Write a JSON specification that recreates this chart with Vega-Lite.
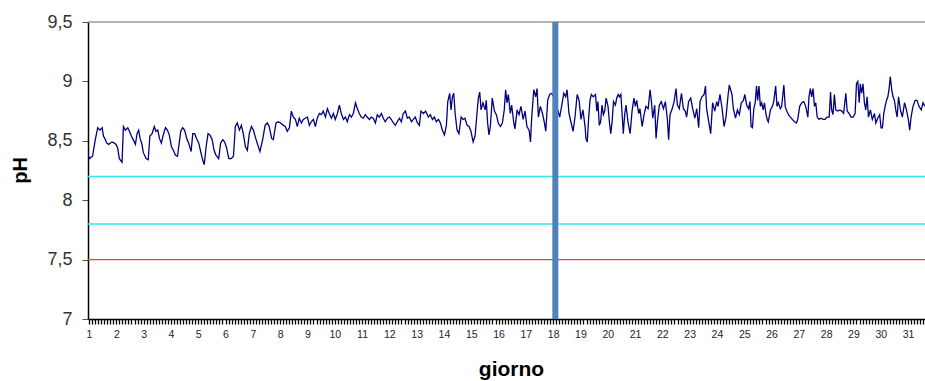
{
  "$schema": "https://vega.github.io/schema/vega-lite/v6.json",
  "width": 837,
  "height": 297,
  "autosize": {"type": "none"},
  "padding": {"left": 88, "top": 22, "right": 0, "bottom": 62},
  "background": "white",
  "config": {"view": {"stroke": null}},
  "datasets": {
    "refs": [
      {"valore": 9.5, "tipo": "bordo"},
      {"valore": 8.2, "tipo": "limite"},
      {"valore": 7.8, "tipo": "limite"},
      {"valore": 7.5, "tipo": "soglia"}
    ],
    "evento": [{"giorno": 18.08}],
    "ph": [
      {"giorno":0.97,"pH":8.38},{"giorno":1.01,"pH":8.35},{"giorno":1.13,"pH":8.37},{"giorno":1.23,"pH":8.51},{"giorno":1.32,"pH":8.61},{"giorno":1.40,"pH":8.59},{"giorno":1.48,"pH":8.61},{"giorno":1.53,"pH":8.54},{"giorno":1.60,"pH":8.51},{"giorno":1.65,"pH":8.48},{"giorno":1.72,"pH":8.47},{"giorno":1.77,"pH":8.48},{"giorno":1.84,"pH":8.49},{"giorno":1.93,"pH":8.48},{"giorno":1.99,"pH":8.47},{"giorno":2.05,"pH":8.44},{"giorno":2.11,"pH":8.35},{"giorno":2.21,"pH":8.32},{"giorno":2.26,"pH":8.62},{"giorno":2.33,"pH":8.59},{"giorno":2.42,"pH":8.61},{"giorno":2.48,"pH":8.58},{"giorno":2.55,"pH":8.54},{"giorno":2.62,"pH":8.51},{"giorno":2.70,"pH":8.47},{"giorno":2.76,"pH":8.56},{"giorno":2.82,"pH":8.59},{"giorno":2.87,"pH":8.52},{"giorno":2.94,"pH":8.47},{"giorno":2.99,"pH":8.40},{"giorno":3.09,"pH":8.35},{"giorno":3.17,"pH":8.34},{"giorno":3.23,"pH":8.54},{"giorno":3.31,"pH":8.56},{"giorno":3.39,"pH":8.62},{"giorno":3.45,"pH":8.58},{"giorno":3.52,"pH":8.59},{"giorno":3.58,"pH":8.52},{"giorno":3.65,"pH":8.48},{"giorno":3.72,"pH":8.55},{"giorno":3.80,"pH":8.61},{"giorno":3.87,"pH":8.59},{"giorno":3.94,"pH":8.55},{"giorno":4.02,"pH":8.45},{"giorno":4.09,"pH":8.42},{"giorno":4.16,"pH":8.38},{"giorno":4.24,"pH":8.37},{"giorno":4.28,"pH":8.44},{"giorno":4.36,"pH":8.58},{"giorno":4.43,"pH":8.61},{"giorno":4.50,"pH":8.59},{"giorno":4.58,"pH":8.52},{"giorno":4.65,"pH":8.48},{"giorno":4.74,"pH":8.41},{"giorno":4.80,"pH":8.56},{"giorno":4.87,"pH":8.56},{"giorno":4.94,"pH":8.52},{"giorno":5.02,"pH":8.48},{"giorno":5.09,"pH":8.41},{"giorno":5.16,"pH":8.34},{"giorno":5.22,"pH":8.30},{"giorno":5.29,"pH":8.45},{"giorno":5.36,"pH":8.56},{"giorno":5.43,"pH":8.55},{"giorno":5.51,"pH":8.51},{"giorno":5.58,"pH":8.42},{"giorno":5.65,"pH":8.38},{"giorno":5.75,"pH":8.35},{"giorno":5.82,"pH":8.48},{"giorno":5.90,"pH":8.51},{"giorno":5.97,"pH":8.49},{"giorno":6.04,"pH":8.44},{"giorno":6.12,"pH":8.35},{"giorno":6.21,"pH":8.35},{"giorno":6.29,"pH":8.37},{"giorno":6.36,"pH":8.62},{"giorno":6.43,"pH":8.65},{"giorno":6.51,"pH":8.59},{"giorno":6.58,"pH":8.63},{"giorno":6.65,"pH":8.56},{"giorno":6.73,"pH":8.45},{"giorno":6.80,"pH":8.42},{"giorno":6.87,"pH":8.56},{"giorno":6.95,"pH":8.62},{"giorno":7.02,"pH":8.59},{"giorno":7.12,"pH":8.51},
      {"giorno":7.26,"pH":8.41},{"giorno":7.36,"pH":8.51},{"giorno":7.45,"pH":8.63},{"giorno":7.53,"pH":8.65},{"giorno":7.60,"pH":8.62},{"giorno":7.69,"pH":8.52},{"giorno":7.75,"pH":8.51},{"giorno":7.85,"pH":8.65},{"giorno":7.93,"pH":8.66},{"giorno":8.02,"pH":8.65},{"giorno":8.12,"pH":8.63},{"giorno":8.19,"pH":8.62},{"giorno":8.26,"pH":8.58},{"giorno":8.34,"pH":8.61},{"giorno":8.41,"pH":8.75},{"giorno":8.48,"pH":8.70},{"giorno":8.56,"pH":8.68},{"giorno":8.63,"pH":8.62},{"giorno":8.70,"pH":8.69},{"giorno":8.78,"pH":8.65},{"giorno":8.85,"pH":8.68},{"giorno":8.92,"pH":8.69},{"giorno":9.00,"pH":8.70},{"giorno":9.07,"pH":8.63},{"giorno":9.14,"pH":8.66},{"giorno":9.22,"pH":8.68},{"giorno":9.29,"pH":8.62},{"giorno":9.36,"pH":8.69},{"giorno":9.44,"pH":8.73},{"giorno":9.51,"pH":8.72},{"giorno":9.58,"pH":8.75},{"giorno":9.66,"pH":8.70},{"giorno":9.73,"pH":8.77},{"giorno":9.80,"pH":8.73},{"giorno":9.88,"pH":8.69},{"giorno":9.95,"pH":8.73},{"giorno":10.02,"pH":8.68},{"giorno":10.10,"pH":8.73},{"giorno":10.17,"pH":8.80},{"giorno":10.24,"pH":8.73},{"giorno":10.32,"pH":8.68},{"giorno":10.39,"pH":8.70},{"giorno":10.46,"pH":8.66},{"giorno":10.54,"pH":8.72},{"giorno":10.61,"pH":8.70},{"giorno":10.68,"pH":8.73},{"giorno":10.76,"pH":8.82},{"giorno":10.83,"pH":8.77},{"giorno":10.90,"pH":8.73},{"giorno":10.97,"pH":8.70},{"giorno":11.05,"pH":8.69},{"giorno":11.12,"pH":8.72},{"giorno":11.19,"pH":8.70},{"giorno":11.27,"pH":8.68},{"giorno":11.34,"pH":8.70},{"giorno":11.41,"pH":8.69},{"giorno":11.49,"pH":8.65},{"giorno":11.56,"pH":8.72},{"giorno":11.63,"pH":8.70},{"giorno":11.71,"pH":8.73},{"giorno":11.78,"pH":8.69},{"giorno":11.85,"pH":8.66},{"giorno":11.93,"pH":8.69},{"giorno":12.00,"pH":8.70},{"giorno":12.07,"pH":8.68},{"giorno":12.15,"pH":8.65},{"giorno":12.22,"pH":8.63},{"giorno":12.29,"pH":8.66},{"giorno":12.37,"pH":8.69},{"giorno":12.44,"pH":8.66},{"giorno":12.51,"pH":8.73},{"giorno":12.59,"pH":8.75},{"giorno":12.66,"pH":8.69},{"giorno":12.73,"pH":8.70},{"giorno":12.81,"pH":8.66},{"giorno":12.88,"pH":8.68},{"giorno":12.95,"pH":8.70},{"giorno":13.03,"pH":8.65},{"giorno":13.10,"pH":8.63},
      {"giorno":13.16,"pH":8.75},{"giorno":13.25,"pH":8.73},{"giorno":13.33,"pH":8.75},{"giorno":13.43,"pH":8.70},{"giorno":13.50,"pH":8.72},{"giorno":13.58,"pH":8.68},{"giorno":13.65,"pH":8.70},{"giorno":13.72,"pH":8.66},{"giorno":13.80,"pH":8.68},{"giorno":13.87,"pH":8.65},{"giorno":13.94,"pH":8.59},{"giorno":14.02,"pH":8.55},{"giorno":14.09,"pH":8.63},{"giorno":14.14,"pH":8.83},{"giorno":14.21,"pH":8.90},{"giorno":14.26,"pH":8.76},{"giorno":14.31,"pH":8.87},{"giorno":14.36,"pH":8.90},{"giorno":14.41,"pH":8.73},{"giorno":14.48,"pH":8.59},{"giorno":14.55,"pH":8.56},{"giorno":14.63,"pH":8.70},{"giorno":14.70,"pH":8.68},{"giorno":14.77,"pH":8.69},{"giorno":14.85,"pH":8.63},{"giorno":14.92,"pH":8.62},{"giorno":14.99,"pH":8.58},{"giorno":15.07,"pH":8.49},{"giorno":15.14,"pH":8.54},{"giorno":15.21,"pH":8.73},{"giorno":15.26,"pH":8.86},{"giorno":15.31,"pH":8.91},{"giorno":15.36,"pH":8.76},{"giorno":15.43,"pH":8.82},{"giorno":15.51,"pH":8.76},{"giorno":15.55,"pH":8.84},{"giorno":15.60,"pH":8.65},{"giorno":15.65,"pH":8.55},{"giorno":15.70,"pH":8.62},{"giorno":15.77,"pH":8.86},{"giorno":15.85,"pH":8.75},{"giorno":15.92,"pH":8.72},{"giorno":15.99,"pH":8.65},{"giorno":16.07,"pH":8.62},{"giorno":16.14,"pH":8.65},{"giorno":16.21,"pH":8.76},{"giorno":16.26,"pH":8.93},{"giorno":16.31,"pH":8.82},{"giorno":16.36,"pH":8.89},{"giorno":16.43,"pH":8.73},{"giorno":16.48,"pH":8.80},{"giorno":16.56,"pH":8.65},{"giorno":16.60,"pH":8.60},{"giorno":16.68,"pH":8.76},{"giorno":16.75,"pH":8.72},{"giorno":16.82,"pH":8.79},{"giorno":16.90,"pH":8.68},{"giorno":16.97,"pH":8.75},{"giorno":17.04,"pH":8.62},{"giorno":17.12,"pH":8.59},{"giorno":17.17,"pH":8.49},{"giorno":17.21,"pH":8.68},{"giorno":17.29,"pH":8.93},{"giorno":17.36,"pH":8.87},{"giorno":17.41,"pH":8.94},{"giorno":17.46,"pH":8.70},{"giorno":17.53,"pH":8.79},{"giorno":17.61,"pH":8.73},{"giorno":17.68,"pH":8.65},{"giorno":17.73,"pH":8.58},{"giorno":17.80,"pH":8.84},{"giorno":17.87,"pH":8.89},{"giorno":17.95,"pH":8.90},{"giorno":18.07,"pH":8.84},{"giorno":18.24,"pH":8.70},{"giorno":18.31,"pH":8.79},{"giorno":18.39,"pH":8.90},{"giorno":18.46,"pH":8.87},{"giorno":18.51,"pH":8.93},{"giorno":18.58,"pH":8.73},{"giorno":18.66,"pH":8.65},{"giorno":18.73,"pH":8.58},{"giorno":18.80,"pH":8.70},{"giorno":18.88,"pH":8.89},{"giorno":18.95,"pH":8.84},{"giorno":19.02,"pH":8.68},{"giorno":19.09,"pH":8.76},{"giorno":19.17,"pH":8.62},
      {"giorno":19.20,"pH":8.52},{"giorno":19.25,"pH":8.49},{"giorno":19.30,"pH":8.69},{"giorno":19.35,"pH":8.84},{"giorno":19.40,"pH":8.89},{"giorno":19.47,"pH":8.87},{"giorno":19.55,"pH":8.89},{"giorno":19.60,"pH":8.75},{"giorno":19.64,"pH":8.83},{"giorno":19.69,"pH":8.63},{"giorno":19.74,"pH":8.66},{"giorno":19.79,"pH":8.80},{"giorno":19.84,"pH":8.72},{"giorno":19.89,"pH":8.75},{"giorno":19.94,"pH":8.86},{"giorno":20.01,"pH":8.79},{"giorno":20.06,"pH":8.66},{"giorno":20.11,"pH":8.56},{"giorno":20.16,"pH":8.66},{"giorno":20.21,"pH":8.83},{"giorno":20.28,"pH":8.80},{"giorno":20.33,"pH":8.86},{"giorno":20.38,"pH":8.89},{"giorno":20.43,"pH":8.87},{"giorno":20.48,"pH":8.89},{"giorno":20.52,"pH":8.75},{"giorno":20.57,"pH":8.56},{"giorno":20.62,"pH":8.72},{"giorno":20.67,"pH":8.80},{"giorno":20.74,"pH":8.66},{"giorno":20.82,"pH":8.56},{"giorno":20.89,"pH":8.75},{"giorno":20.96,"pH":8.86},{"giorno":21.01,"pH":8.79},{"giorno":21.06,"pH":8.84},{"giorno":21.13,"pH":8.73},{"giorno":21.18,"pH":8.77},{"giorno":21.26,"pH":8.62},{"giorno":21.33,"pH":8.72},{"giorno":21.40,"pH":8.79},{"giorno":21.48,"pH":8.77},{"giorno":21.55,"pH":8.93},{"giorno":21.60,"pH":8.83},{"giorno":21.65,"pH":8.69},{"giorno":21.72,"pH":8.80},{"giorno":21.77,"pH":8.52},{"giorno":21.82,"pH":8.66},{"giorno":21.89,"pH":8.80},{"giorno":21.96,"pH":8.83},{"giorno":22.04,"pH":8.77},{"giorno":22.11,"pH":8.83},{"giorno":22.18,"pH":8.69},{"giorno":22.23,"pH":8.51},{"giorno":22.28,"pH":8.72},{"giorno":22.36,"pH":8.77},{"giorno":22.43,"pH":8.83},{"giorno":22.50,"pH":8.94},{"giorno":22.55,"pH":8.80},{"giorno":22.62,"pH":8.77},{"giorno":22.70,"pH":8.90},{"giorno":22.77,"pH":8.77},{"giorno":22.84,"pH":8.75},{"giorno":22.89,"pH":8.70},{"giorno":22.96,"pH":8.83},{"giorno":23.04,"pH":8.86},{"giorno":23.11,"pH":8.77},{"giorno":23.19,"pH":8.69},{"giorno":23.26,"pH":8.77},{"giorno":23.33,"pH":8.61},{"giorno":23.38,"pH":8.83},{"giorno":23.45,"pH":8.87},{"giorno":23.53,"pH":8.89},{"giorno":23.58,"pH":8.96},{"giorno":23.62,"pH":8.77},{"giorno":23.70,"pH":8.66},{"giorno":23.77,"pH":8.56},{"giorno":23.84,"pH":8.82},{"giorno":23.92,"pH":8.75},{"giorno":23.99,"pH":8.83},{"giorno":24.04,"pH":8.79},{"giorno":24.11,"pH":8.89},{"giorno":24.19,"pH":8.77},{"giorno":24.26,"pH":8.62},{"giorno":24.33,"pH":8.70},{"giorno":24.41,"pH":8.89},{"giorno":24.45,"pH":8.97},{"giorno":24.50,"pH":8.93},{"giorno":24.55,"pH":8.89},{"giorno":24.60,"pH":8.77},{"giorno":24.68,"pH":8.69},{"giorno":24.75,"pH":8.76},{"giorno":24.82,"pH":8.72},{"giorno":24.89,"pH":8.82},{"giorno":24.97,"pH":8.84},{"giorno":25.02,"pH":8.89},{"giorno":25.09,"pH":8.80},{"giorno":25.16,"pH":8.77},{"giorno":25.21,"pH":8.83},
      {"giorno":25.25,"pH":8.62},{"giorno":25.30,"pH":8.61},{"giorno":25.35,"pH":8.77},{"giorno":25.40,"pH":8.82},{"giorno":25.45,"pH":8.96},{"giorno":25.49,"pH":8.84},{"giorno":25.54,"pH":8.96},{"giorno":25.59,"pH":8.79},{"giorno":25.64,"pH":8.82},{"giorno":25.69,"pH":8.76},{"giorno":25.74,"pH":8.82},{"giorno":25.79,"pH":8.73},{"giorno":25.84,"pH":8.68},{"giorno":25.88,"pH":8.66},{"giorno":25.96,"pH":8.76},{"giorno":26.03,"pH":8.79},{"giorno":26.08,"pH":8.83},{"giorno":26.15,"pH":8.96},{"giorno":26.20,"pH":8.79},{"giorno":26.25,"pH":8.82},{"giorno":26.32,"pH":8.77},{"giorno":26.37,"pH":8.79},{"giorno":26.45,"pH":8.97},{"giorno":26.50,"pH":8.79},{"giorno":26.54,"pH":8.76},{"giorno":26.62,"pH":8.72},{"giorno":26.69,"pH":8.70},{"giorno":26.76,"pH":8.68},{"giorno":26.84,"pH":8.66},{"giorno":26.91,"pH":8.65},{"giorno":26.96,"pH":8.68},{"giorno":27.03,"pH":8.79},{"giorno":27.11,"pH":8.82},{"giorno":27.18,"pH":8.83},{"giorno":27.25,"pH":8.79},{"giorno":27.33,"pH":8.70},{"giorno":27.37,"pH":8.87},{"giorno":27.42,"pH":8.94},{"giorno":27.47,"pH":8.87},{"giorno":27.52,"pH":8.94},{"giorno":27.57,"pH":8.79},{"giorno":27.62,"pH":8.82},{"giorno":27.67,"pH":8.70},{"giorno":27.74,"pH":8.68},{"giorno":27.81,"pH":8.69},{"giorno":27.89,"pH":8.68},{"giorno":27.96,"pH":8.68},{"giorno":28.03,"pH":8.70},{"giorno":28.11,"pH":8.70},{"giorno":28.16,"pH":8.91},{"giorno":28.20,"pH":8.76},{"giorno":28.25,"pH":8.72},{"giorno":28.30,"pH":8.89},{"giorno":28.35,"pH":8.76},{"giorno":28.42,"pH":8.75},{"giorno":28.50,"pH":8.76},{"giorno":28.57,"pH":8.75},{"giorno":28.64,"pH":8.73},{"giorno":28.72,"pH":8.90},{"giorno":28.77,"pH":8.75},{"giorno":28.84,"pH":8.73},{"giorno":28.91,"pH":8.70},{"giorno":28.99,"pH":8.70},{"giorno":29.06,"pH":8.73},{"giorno":29.11,"pH":8.98},{"giorno":29.16,"pH":9.00},{"giorno":29.21,"pH":8.82},{"giorno":29.25,"pH":8.98},{"giorno":29.30,"pH":8.90},{"giorno":29.35,"pH":8.98},{"giorno":29.40,"pH":8.82},{"giorno":29.45,"pH":8.76},{"giorno":29.50,"pH":8.87},{"giorno":29.55,"pH":8.70},{"giorno":29.62,"pH":8.76},{"giorno":29.69,"pH":8.68},{"giorno":29.77,"pH":8.73},{"giorno":29.82,"pH":8.65},{"giorno":29.89,"pH":8.69},{"giorno":29.96,"pH":8.72},{"giorno":30.01,"pH":8.61},{"giorno":30.06,"pH":8.61},{"giorno":30.11,"pH":8.73},{"giorno":30.16,"pH":8.79},{"giorno":30.21,"pH":8.84},{"giorno":30.26,"pH":8.87},{"giorno":30.30,"pH":8.93},{"giorno":30.35,"pH":9.04},{"giorno":30.40,"pH":8.93},{"giorno":30.45,"pH":8.87},{"giorno":30.50,"pH":8.84},{"giorno":30.55,"pH":8.76},{"giorno":30.60,"pH":8.70},{"giorno":30.65,"pH":8.87},{"giorno":30.72,"pH":8.76},{"giorno":30.79,"pH":8.70},{"giorno":30.87,"pH":8.82},{"giorno":30.94,"pH":8.76},{"giorno":31.01,"pH":8.68},{"giorno":31.06,"pH":8.59},{"giorno":31.11,"pH":8.70},{"giorno":31.18,"pH":8.79},{"giorno":31.26,"pH":8.84},{"giorno":31.33,"pH":8.84},{"giorno":31.40,"pH":8.79},{"giorno":31.48,"pH":8.76},{"giorno":31.55,"pH":8.82},{"giorno":31.62,"pH":8.79}
    ]
  },
  "layer": [
    {
      "data": {"name": "refs"},
      "mark": {"type": "rule", "strokeWidth": 1.4},
      "encoding": {
        "y": {"field": "valore", "type": "quantitative", "scale": {"domain": [7, 9.5], "nice": false, "zero": false}},
        "color": {"field": "tipo", "type": "nominal", "scale": {"domain": ["bordo", "limite", "soglia"], "range": ["#999999", "#2ee8f2", "#ff3a3a"]}, "legend": null}
      }
    },
    {
      "data": {"name": "ph"},
      "mark": {"type": "line", "color": "#000080", "strokeWidth": 1.3, "clip": true},
      "encoding": {
        "x": {
          "field": "giorno", "type": "quantitative",
          "scale": {"domain": [0.963, 31.62], "nice": false, "zero": false},
          "axis": {
            "values": [1,1.111,1.222,1.333,1.444,1.556,1.667,1.778,1.889,2,2.111,2.222,2.333,2.444,2.556,2.667,2.778,2.889,3,3.111,3.222,3.333,3.444,3.556,3.667,3.778,3.889,4,4.111,4.222,4.333,4.444,4.556,4.667,4.778,4.889,5,5.111,5.222,5.333,5.444,5.556,5.667,5.778,5.889,6,6.111,6.222,6.333,6.444,6.556,6.667,6.778,6.889,7,7.111,7.222,7.333,7.444,7.556,7.667,7.778,7.889,8,8.111,8.222,8.333,8.444,8.556,8.667,8.778,8.889,9,9.111,9.222,9.333,9.444,9.556,9.667,9.778,9.889,10,10.111,10.222,10.333,10.444,10.556,10.667,10.778,10.889,11,11.111,11.222,11.333,11.444,11.556,11.667,11.778,11.889,12,12.111,12.222,12.333,12.444,12.556,12.667,12.778,12.889,13,13.111,13.222,13.333,13.444,13.556,13.667,13.778,13.889,14,14.111,14.222,14.333,14.444,14.556,14.667,14.778,14.889,15,15.111,15.222,15.333,15.444,15.556,15.667,15.778,15.889,16,16.111,16.222,16.333,16.444,16.556,16.667,16.778,16.889,17,17.111,17.222,17.333,17.444,17.556,17.667,17.778,17.889,18,18.111,18.222,18.333,18.444,18.556,18.667,18.778,18.889,19,19.111,19.222,19.333,19.444,19.556,19.667,19.778,19.889,20,20.111,20.222,20.333,20.444,20.556,20.667,20.778,20.889,21,21.111,21.222,21.333,21.444,21.556,21.667,21.778,21.889,22,22.111,22.222,22.333,22.444,22.556,22.667,22.778,22.889,23,23.111,23.222,23.333,23.444,23.556,23.667,23.778,23.889,24,24.111,24.222,24.333,24.444,24.556,24.667,24.778,24.889,25,25.111,25.222,25.333,25.444,25.556,25.667,25.778,25.889,26,26.111,26.222,26.333,26.444,26.556,26.667,26.778,26.889,27,27.111,27.222,27.333,27.444,27.556,27.667,27.778,27.889,28,28.111,28.222,28.333,28.444,28.556,28.667,28.778,28.889,29,29.111,29.222,29.333,29.444,29.556,29.667,29.778,29.889,30,30.111,30.222,30.333,30.444,30.556,30.667,30.778,30.889,31,31.111,31.222,31.333,31.444,31.556],
            "tickCount": 1000,
            "labelExpr": "datum.value % 1 === 0 ? toString(datum.value) : ''",
            "labelOverlap": false, "labelFlush": false, "labelBound": false, "grid": false,
            "domainColor": "#000", "domainWidth": 1.5,
            "ticks": true, "tickColor": "#000", "tickSize": 5, "tickWidth": 1.3, "tickOpacity": 1, "tickRound": true,
            "labelFont": "Liberation Sans", "labelFontSize": 10.5, "labelColor": "#223", "labelPadding": 5,
            "title": "giorno", "titleFont": "Liberation Sans", "titleFontSize": 21, "titleFontWeight": "bold", "titleColor": "#000",
            "titleX": 423, "titleY": 56, "titleBaseline": "alphabetic", "titleAlign": "center"
          }
        },
        "y": {
          "field": "pH", "type": "quantitative",
          "scale": {"domain": [7, 9.5], "nice": false, "zero": false},
          "axis": {
            "values": [7, 7.5, 8, 8.5, 9, 9.5],
            "labelExpr": "replace(toString(datum.value), '.', ',')",
            "grid": false,
            "domainColor": "#000", "domainWidth": 1.5,
            "tickColor": "#555", "tickSize": 6,
            "labelFont": "Liberation Sans", "labelFontSize": 18, "labelColor": "#333", "labelPadding": 10,
            "title": "pH", "titleFont": "Liberation Sans", "titleFontSize": 20, "titleFontWeight": "bold", "titleColor": "#000",
            "titleX": -58, "titleY": 148, "titleAngle": -90, "titleBaseline": "bottom", "titleAlign": "center"
          }
        }
      }
    },
    {
      "data": {"name": "evento"},
      "mark": {"type": "rule", "strokeWidth": 6, "color": "#4f81bd"},
      "encoding": {
        "x": {"field": "giorno", "type": "quantitative"}
      }
    }
  ]
}
